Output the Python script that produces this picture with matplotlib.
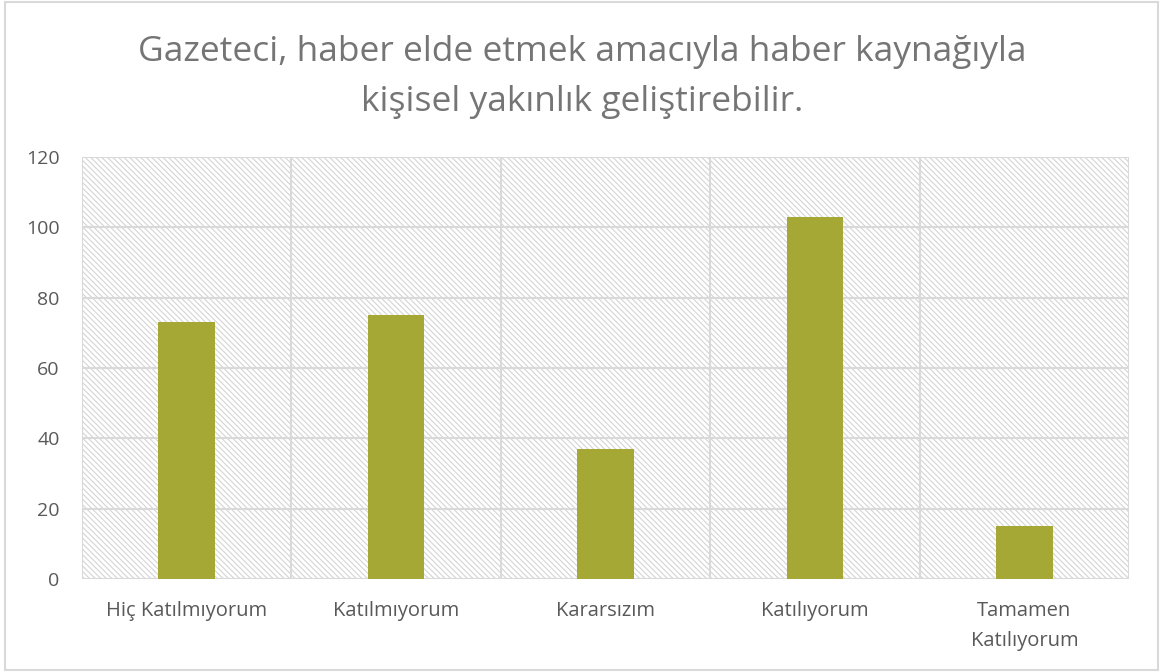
import matplotlib.pyplot as plt
from matplotlib.patches import Rectangle

categories = ["Hiç Katılmıyorum", "Katılmıyorum", "Kararsızım", "Katılıyorum", "Tamamen\nKatılıyorum"]
values = [73, 75, 37, 103, 15]
yticks = [0, 20, 40, 60, 80, 100, 120]
title = "Gazeteci, haber elde etmek amacıyla haber kaynağıyla\nkişisel yakınlık geliştirebilir."

plt.rcParams['font.family'] = ['Open Sans', 'DejaVu Sans']
plt.rcParams['hatch.color'] = '#d4d4d4'
plt.rcParams['hatch.linewidth'] = 0.8

fig = plt.figure(figsize=(11.64, 6.72), dpi=100)
ax = fig.add_axes([0.0704, 0.1384, 0.8996, 0.628])

# figure border
fig.patches.append(Rectangle((0.004, 0.003), 0.991, 0.994, transform=fig.transFigure,
                             fill=False, edgecolor='#d9d9d9', linewidth=1.5))

# hatched plot area
ax.add_patch(Rectangle((0, 0), 1, 1, transform=ax.transAxes, facecolor='white',
                       edgecolor='#d4d4d4', hatch='\\\\\\\\\\\\', linewidth=0, zorder=0))

x = range(len(categories))
ax.bar(x, values, width=0.27, color='#a5a835', zorder=3)

ax.set_xlim(-0.5, len(categories) - 0.5)
ax.set_ylim(0, 120)
ax.set_yticks(yticks)
ax.set_xticks(list(x))
ax.set_xticklabels(categories, fontsize=14.5, color='#595959', linespacing=1.65)
ax.tick_params(axis='y', labelsize=14, labelcolor='#595959', length=0, pad=16)
ax.tick_params(axis='x', length=0, pad=16)

ax.set_xticks([i + 0.5 for i in range(-1, len(categories))], minor=True)
ax.grid(True, axis='y', color='#d9d9d9', linewidth=1.5, zorder=1)
ax.grid(True, axis='x', which='minor', color='#d9d9d9', linewidth=1.5, zorder=1)
ax.tick_params(which='minor', length=0)
ax.set_axisbelow(True)
for s in ax.spines.values():
    s.set_visible(False)
ax.axhline(0, color='#d9d9d9', linewidth=1.5, zorder=2)

fig.text(0.5, 0.948, title, ha='center', va='top', fontsize=25.5, color='#757575', linespacing=1.6)

fig.savefig('out.png', dpi=100)
